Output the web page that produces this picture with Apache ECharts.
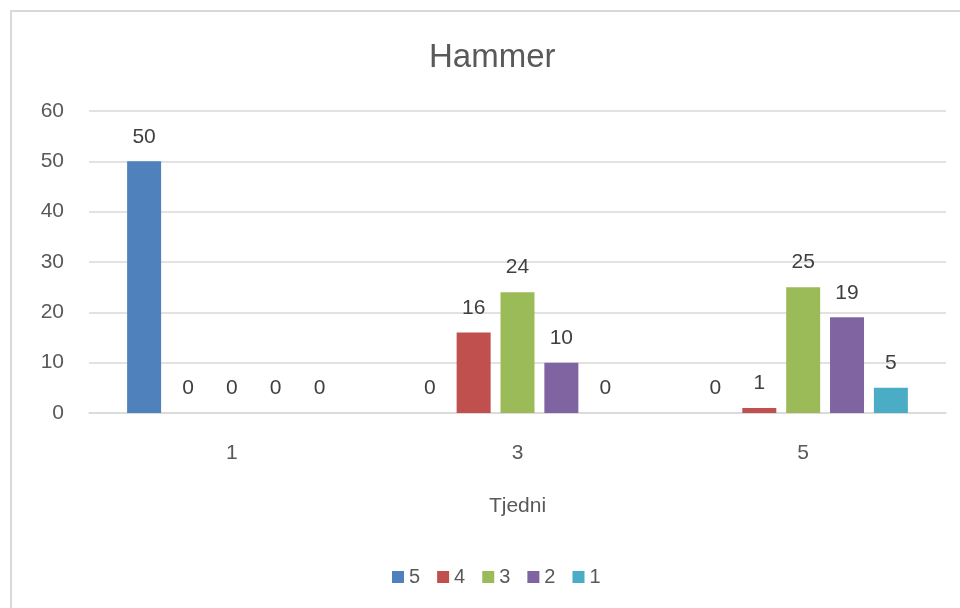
<!DOCTYPE html>
<html><head><meta charset="utf-8">
<script src="https://cdn.jsdelivr.net/npm/echarts@6/dist/echarts.min.js"></script>
<style>html,body{margin:0;padding:0;background:#fff;overflow:hidden;}#c{width:960px;height:608px;}</style>
</head><body><div id="c"></div>
<script>
var categories = ['1', '3', '5'];
var seriesNames = ['5', '4', '3', '2', '1'];
var s5 = [50, 0, 0];
var s4 = [0, 16, 1];
var s3 = [0, 24, 25];
var s2 = [0, 10, 19];
var s1 = [0, 0, 5];
var colors = ['#4F81BD', '#C0504D', '#9BBB59', '#8064A2', '#4BACC6'];
var values = [s5, s4, s3, s2, s1];
var font = "'Liberation Sans', 'Open Sans', sans-serif";
var txt = '#595959';

var chart = echarts.init(document.getElementById('c'));
chart.setOption({
  animation: false,
  backgroundColor: '#fff',
  graphic: [{type: 'rect', shape: {x: 11, y: 11, width: 980, height: 640}, style: {fill: 'none', stroke: '#d9d9d9', lineWidth: 2}, silent: true}],
  title: {text: 'Hammer', left: 424, top: 36, textStyle: {fontFamily: font, fontSize: 33, fontWeight: 'normal', color: txt}},
  legend: {top: 562, left: 387, itemWidth: 12, itemHeight: 12, itemGap: 17, icon: 'rect',
    textStyle: {fontFamily: font, fontSize: 20, color: txt}, data: seriesNames},
  grid: {left: 89, right: 14, top: 111, bottom: 195, containLabel: false},
  xAxis: {type: 'category', data: categories, name: 'Tjedni', nameLocation: 'middle', nameGap: 83,
    nameTextStyle: {fontFamily: font, fontSize: 21, color: txt},
    axisLine: {lineStyle: {color: '#d9d9d9', width: 1.5}}, axisTick: {show: false},
    axisLabel: {fontFamily: font, fontSize: 21, color: txt, margin: 30}},
  yAxis: {type: 'value', min: 0, max: 60, interval: 10,
    axisLine: {show: false}, axisTick: {show: false},
    splitLine: {lineStyle: {color: '#d9d9d9', width: 1.5}},
    axisLabel: {fontFamily: font, fontSize: 21, color: txt, margin: 25}},
  series: values.map(function (v, i) {
    return {name: seriesNames[i], type: 'bar', data: v, barWidth: 34, barGap: '29%', barCategoryGap: '26%',
      itemStyle: {color: colors[i]},
      label: {show: true, position: 'top', distance: 14, fontFamily: font, fontSize: 21, color: '#404040'}};
  })
});
</script></body></html>
